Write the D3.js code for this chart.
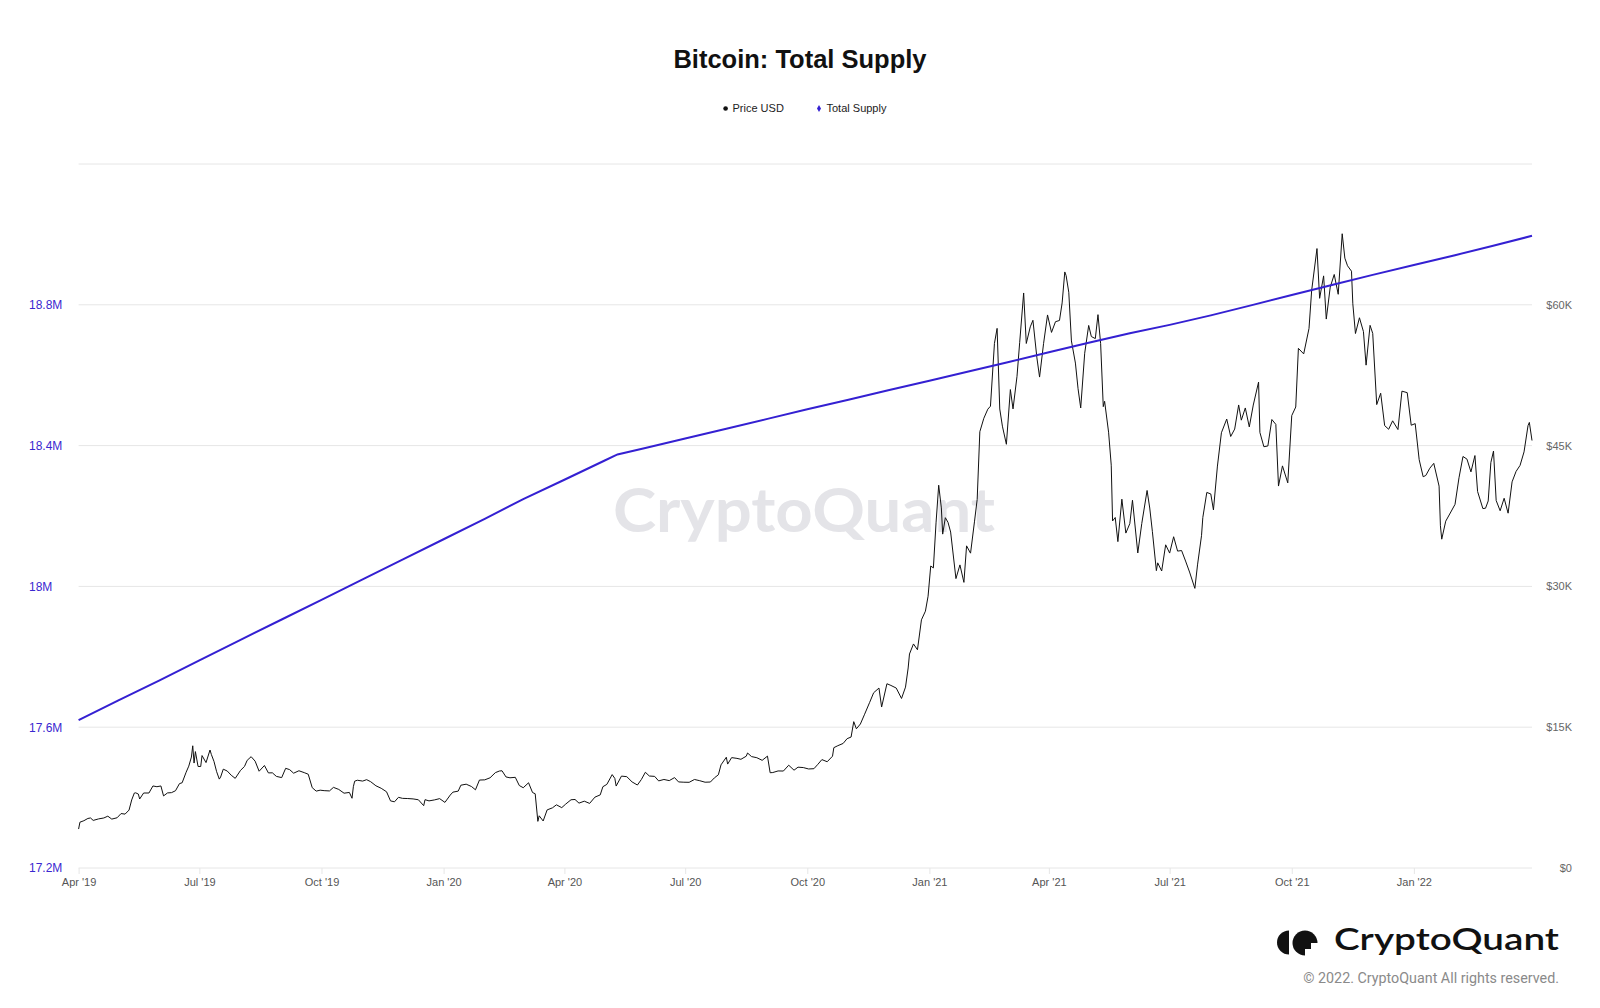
<!DOCTYPE html>
<html>
<head>
<meta charset="utf-8">
<script src="https://cdn.jsdelivr.net/npm/d3@7"></script>
<style>
  html, body { margin: 0; padding: 0; background: #ffffff; }
  svg { display: block; }
</style>
</head>
<body>
<svg id="chart" width="1600" height="1008"></svg>
<script>
// ---------------- DATA ----------------
const chartTitle = "Bitcoin: Total Supply";
const seriesNames = ["Price USD", "Total Supply"];

// Total supply (BTC, millions)
const supplyPoints = [
  ["2019-04-01", 17.620], ["2019-05-01", 17.676], ["2019-06-01", 17.733], ["2019-07-01", 17.790],
  ["2019-08-01", 17.848], ["2019-09-01", 17.906], ["2019-10-01", 17.962], ["2019-11-01", 18.020],
  ["2019-12-01", 18.076], ["2020-01-01", 18.134], ["2020-02-01", 18.192], ["2020-03-01", 18.248],
  ["2020-04-01", 18.303], ["2020-05-01", 18.357], ["2020-05-11", 18.375], ["2020-06-01", 18.393],
  ["2020-07-01", 18.420], ["2020-08-01", 18.448], ["2020-09-01", 18.476], ["2020-10-01", 18.503],
  ["2020-11-01", 18.530], ["2020-12-01", 18.557], ["2021-01-01", 18.584], ["2021-02-01", 18.612],
  ["2021-03-01", 18.637], ["2021-04-01", 18.665], ["2021-05-01", 18.692], ["2021-06-01", 18.719],
  ["2021-07-01", 18.743], ["2021-08-01", 18.770], ["2021-09-01", 18.799], ["2021-10-01", 18.828],
  ["2021-11-01", 18.857], ["2021-12-01", 18.885], ["2022-01-01", 18.913], ["2022-02-01", 18.941],
  ["2022-03-01", 18.967], ["2022-03-31", 18.996]
];

// Price USD
const price2019 = [
  ["2019-04-01",4150],["2019-04-02",4880],["2019-04-05",5040],["2019-04-08",5280],["2019-04-10",5330],
  ["2019-04-12",5070],["2019-04-16",5230],["2019-04-20",5330],["2019-04-23",5520],["2019-04-26",5210],
  ["2019-04-30",5350],["2019-05-03",5800],["2019-05-06",5740],["2019-05-09",6170],["2019-05-11",7250],
  ["2019-05-13",7990],["2019-05-14",8010],["2019-05-16",7880],["2019-05-17",7350],["2019-05-20",7990],
  ["2019-05-24",7990],["2019-05-27",8740],["2019-05-30",8660],["2019-06-02",8740],["2019-06-04",7680],
  ["2019-06-07",8000],["2019-06-10",8030],["2019-06-13",8230],["2019-06-16",8990],["2019-06-18",9080],
  ["2019-06-21",10200],["2019-06-23",10850],["2019-06-25",11820],["2019-06-26",13020],["2019-06-27",11180],
  ["2019-06-28",12400],["2019-06-30",10820],["2019-07-02",10810],["2019-07-03",11980],["2019-07-06",11230],
  ["2019-07-09",12570],["2019-07-10",12100],["2019-07-12",11350],["2019-07-14",10260],["2019-07-16",9470],
  ["2019-07-17",9690],["2019-07-19",10530],["2019-07-22",10330],["2019-07-25",9880],["2019-07-28",9550],
  ["2019-08-01",10400],["2019-08-04",10820],["2019-08-06",11470],["2019-08-09",11860],["2019-08-12",11380],
  ["2019-08-15",10310],["2019-08-19",10920],["2019-08-22",10130],["2019-08-25",10140],["2019-08-28",9760],
  ["2019-09-01",9630],["2019-09-04",10620],["2019-09-07",10480],["2019-09-10",10100],["2019-09-14",10360],
  ["2019-09-18",10160],["2019-09-21",9990],["2019-09-24",8560],["2019-09-27",8190],["2019-09-30",8290],
  ["2019-10-03",8240],["2019-10-07",8210],["2019-10-10",8590],["2019-10-14",8370],["2019-10-18",7970],
  ["2019-10-22",8050],["2019-10-24",7430],["2019-10-25",8660],["2019-10-26",9250],["2019-10-28",9350],
  ["2019-11-01",9260],["2019-11-04",9410],["2019-11-07",9200],["2019-11-11",8760],["2019-11-15",8490],
  ["2019-11-19",8120],["2019-11-22",7150],["2019-11-25",7050],["2019-11-28",7530],["2019-12-01",7420],
  ["2019-12-05",7400],["2019-12-09",7360],["2019-12-13",7270],["2019-12-17",6640],["2019-12-18",7280],
  ["2019-12-21",7150],["2019-12-25",7250],["2019-12-29",7390]
];
const price2020 = [
  ["2020-01-02",6990],["2020-01-06",7770],["2020-01-08",8080],["2020-01-12",8190],["2020-01-14",8820],
  ["2020-01-18",8930],["2020-01-22",8680],["2020-01-25",8330],["2020-01-28",9370],["2020-02-01",9390],
  ["2020-02-05",9610],["2020-02-09",10160],["2020-02-12",10330],["2020-02-14",10360],["2020-02-17",9700],
  ["2020-02-20",9610],["2020-02-24",9660],["2020-02-27",8790],["2020-03-01",8550],["2020-03-05",9080],
  ["2020-03-08",8040],["2020-03-10",7910],["2020-03-12",4970],["2020-03-13",5560],["2020-03-16",5010],
  ["2020-03-19",6190],["2020-03-23",6410],["2020-03-26",6730],["2020-03-30",6430],["2020-04-02",6810],
  ["2020-04-06",7270],["2020-04-09",7300],["2020-04-12",6910],["2020-04-16",7120],["2020-04-20",6880],
  ["2020-04-24",7550],["2020-04-28",7790],["2020-04-30",8660],["2020-05-03",8910],["2020-05-07",9950],
  ["2020-05-09",9540],["2020-05-10",8730],["2020-05-14",9790],["2020-05-18",9730],["2020-05-22",9170],
  ["2020-05-26",8840],["2020-05-29",9430],["2020-06-01",10200],["2020-06-04",9800],["2020-06-08",9760],
  ["2020-06-11",9280],["2020-06-15",9430],["2020-06-19",9310],["2020-06-23",9630],["2020-06-26",9170],
  ["2020-06-30",9140],["2020-07-04",9130],["2020-07-08",9430],["2020-07-12",9300],["2020-07-16",9140],
  ["2020-07-20",9160],["2020-07-23",9600],["2020-07-26",9930],["2020-07-28",10990],["2020-08-01",11800],
  ["2020-08-02",11070],["2020-08-05",11760],["2020-08-09",11680],["2020-08-12",11580],["2020-08-16",11910],
  ["2020-08-17",12250],["2020-08-20",11870],["2020-08-24",11750],["2020-08-28",11470],["2020-09-01",11920],
  ["2020-09-03",10150],["2020-09-05",10170],["2020-09-09",10340],["2020-09-13",10330],["2020-09-17",10950],
  ["2020-09-21",10420],["2020-09-24",10740],["2020-09-28",10700],["2020-10-02",10550],["2020-10-06",10580],
  ["2020-10-09",11050],["2020-10-12",11550],["2020-10-16",11320],["2020-10-20",11910],["2020-10-21",12820],
  ["2020-10-24",13030],["2020-10-28",13270],["2020-10-31",13780],["2020-11-03",13950],["2020-11-05",15590],
  ["2020-11-07",14830],["2020-11-10",15340],["2020-11-13",16320],["2020-11-17",17650],["2020-11-20",18670],
  ["2020-11-24",19170],["2020-11-26",17150],["2020-11-30",19630],["2020-12-03",19450],["2020-12-07",19170],
  ["2020-12-11",18060],["2020-12-14",19270],["2020-12-16",21310],["2020-12-17",22800],["2020-12-20",23870],
  ["2020-12-23",23250],["2020-12-26",26440],["2020-12-29",27360],["2020-12-31",28950]
];
const price2021 = [
  ["2021-01-02",32170],["2021-01-04",31970],["2021-01-06",36770],["2021-01-08",40780],["2021-01-10",38360],
  ["2021-01-11",35570],["2021-01-13",37320],["2021-01-15",36830],["2021-01-17",35790],["2021-01-21",30830],
  ["2021-01-24",32290],["2021-01-27",30430],["2021-01-29",34320],["2021-02-01",33540],["2021-02-04",36950],
  ["2021-02-06",39260],["2021-02-08",46480],["2021-02-11",47910],["2021-02-14",48880],["2021-02-16",49200],
  ["2021-02-19",55890],["2021-02-21",57490],["2021-02-23",48900],["2021-02-25",47070],["2021-02-28",45140],
  ["2021-03-03",50970],["2021-03-05",48910],["2021-03-08",52380],["2021-03-10",55960],["2021-03-13",61260],
  ["2021-03-15",55880],["2021-03-18",57650],["2021-03-20",58350],["2021-03-23",54340],["2021-03-25",52300],
  ["2021-03-28",55860],["2021-03-31",58920],["2021-04-03",57060],["2021-04-06",58200],["2021-04-09",58330],
  ["2021-04-11",60200],["2021-04-13",63500],["2021-04-14",63110],["2021-04-16",61340],["2021-04-18",56150],
  ["2021-04-21",53790],["2021-04-23",51060],["2021-04-25",49010],["2021-04-28",54840],["2021-05-01",57800],
  ["2021-05-03",56620],["2021-05-06",56400],["2021-05-08",58950],["2021-05-10",55860],["2021-05-12",49150],
  ["2021-05-13",49720],["2021-05-16",46430],["2021-05-18",42910],["2021-05-19",36970],["2021-05-21",37340],
  ["2021-05-23",34770],["2021-05-26",39290],["2021-05-29",35680],["2021-06-01",36690],["2021-06-03",39180],
  ["2021-06-07",33560],["2021-06-10",36700],["2021-06-14",40220],["2021-06-16",38350],["2021-06-18",35830],
  ["2021-06-21",31680],["2021-06-22",32510],["2021-06-25",31640],["2021-06-28",34430],["2021-07-01",33550],
  ["2021-07-04",35290],["2021-07-07",33760],["2021-07-10",33820],["2021-07-13",32700],["2021-07-16",31530],
  ["2021-07-20",29790],["2021-07-22",32290],["2021-07-25",35400],["2021-07-26",37340],["2021-07-29",40010],
  ["2021-08-01",39850],["2021-08-03",38150],["2021-08-06",42820],["2021-08-09",46370],["2021-08-13",47830],
  ["2021-08-16",45970],["2021-08-19",46760],["2021-08-22",49330],["2021-08-24",47710],["2021-08-27",49010],
  ["2021-08-30",46990],["2021-09-02",49320],["2021-09-06",51770],["2021-09-07",46400],["2021-09-10",44880],
  ["2021-09-13",44960],["2021-09-16",47780],["2021-09-19",47260],["2021-09-21",40690],["2021-09-24",42840],
  ["2021-09-28",41030],["2021-10-01",48200],["2021-10-04",49110],["2021-10-06",55360],["2021-10-10",54770],
  ["2021-10-14",57480],["2021-10-16",61530],["2021-10-20",65990],["2021-10-22",60690],["2021-10-25",63080],
  ["2021-10-27",58480],["2021-10-30",61890],["2021-11-02",63230],["2021-11-05",61120],["2021-11-08",67570],
  ["2021-11-10",64970],["2021-11-12",64160],["2021-11-15",63580],["2021-11-16",60110],["2021-11-18",56940],
  ["2021-11-21",58620],["2021-11-24",57150],["2021-11-26",53570],["2021-11-29",57810],["2021-12-01",56950],
  ["2021-12-04",49370],["2021-12-07",50580],["2021-12-10",47130],["2021-12-13",46740],["2021-12-16",47640],
  ["2021-12-20",46710],["2021-12-23",50800],["2021-12-27",50640],["2021-12-30",47170]
];
const price2022 = [
  ["2022-01-02",47340],["2022-01-05",43500],["2022-01-08",41680],["2022-01-10",41820],["2022-01-13",42590],
  ["2022-01-16",43110],["2022-01-20",40680],["2022-01-21",36460],["2022-01-22",35030],["2022-01-25",36950],
  ["2022-01-28",37710],["2022-02-01",38740],["2022-02-04",41570],["2022-02-07",43840],["2022-02-10",43560],
  ["2022-02-13",42200],["2022-02-16",43940],["2022-02-18",40110],["2022-02-22",38290],["2022-02-24",38330],
  ["2022-02-26",39100],["2022-02-28",43190],["2022-03-02",44420],["2022-03-04",39150],["2022-03-07",38060],
  ["2022-03-10",39390],["2022-03-13",37800],["2022-03-16",41140],["2022-03-19",42250],["2022-03-22",42890],
  ["2022-03-25",44330],["2022-03-28",47130],["2022-03-29",47470],["2022-03-31",45540]
];

const supplyTicks = [17.2, 17.6, 18.0, 18.4, 18.8];
const supplyTickLabels = ["17.2M", "17.6M", "18M", "18.4M", "18.8M"];
const priceTicks = [0, 15000, 30000, 45000, 60000];
const priceTickLabels = ["$0", "$15K", "$30K", "$45K", "$60K"];
const gridValues = [17.2, 17.6, 18.0, 18.4, 18.8, 19.2];
const dateTicks = ["2019-04-01","2019-07-01","2019-10-01","2020-01-01","2020-04-01","2020-07-01",
                   "2020-10-01","2021-01-01","2021-04-01","2021-07-01","2021-10-01","2022-01-01"];
const dateTickLabels = ["Apr '19","Jul '19","Oct '19","Jan '20","Apr '20","Jul '20",
                        "Oct '20","Jan '21","Apr '21","Jul '21","Oct '21","Jan '22"];

// ---------------- DRAW ----------------
const parse = d3.utcParse("%Y-%m-%d");
const svg = d3.select("#chart");
const W = 1600, H = 1008;
const plot = { left: 78.6, right: 1532, top: 164, bottom: 868 };

const supplyBlue = "#3420d2";
const font = "'Liberation Sans', Arial, Helvetica, sans-serif";

const x = d3.scaleUtc()
  .domain([parse("2019-04-01"), parse("2022-03-31")])
  .range([plot.left, plot.right]);
const ySupply = d3.scaleLinear().domain([17.2, 19.2]).range([plot.bottom, plot.top]);
const yPrice = d3.scaleLinear().domain([0, 75000]).range([plot.bottom, plot.top]);

svg.append("rect").attr("width", W).attr("height", H).attr("fill", "#ffffff");

// Title
svg.append("text")
  .attr("x", 800).attr("y", 68)
  .attr("text-anchor", "middle")
  .attr("font-family", font).attr("font-weight", "bold").attr("font-size", 25.5)
  .attr("fill", "#111")
  .text(chartTitle);

// Legend
const legend = svg.append("g").attr("font-family", font).attr("font-size", 11).attr("fill", "#222");
legend.append("circle").attr("cx", 725.6).attr("cy", 108.5).attr("r", 2.3).attr("fill", "#111");
legend.append("text").attr("x", 732.5).attr("y", 112).text(seriesNames[0]);
legend.append("path")
  .attr("d", d3.symbol(d3.symbolDiamond, 14)())
  .attr("transform", "translate(819,108.5)")
  .attr("fill", supplyBlue);
legend.append("text").attr("x", 826.5).attr("y", 112).text(seriesNames[1]);

// Gridlines
svg.append("g").selectAll("line").data(gridValues).join("line")
  .attr("x1", plot.left).attr("x2", plot.right)
  .attr("y1", d => ySupply(d)).attr("y2", d => ySupply(d))
  .attr("stroke", "#e6e6e6").attr("stroke-width", 1);

// Watermark
svg.append("text")
  .attr("x", 613).attr("y", 532)
  .attr("font-family", "Lato, 'Noto Sans', sans-serif").attr("font-weight", 700).attr("font-size", 62)
  .attr("fill", "#e4e4e8")
  .attr("textLength", 382).attr("lengthAdjust", "spacingAndGlyphs")
  .text("CryptoQuant");

// X axis
const xAxis = d3.axisBottom(x)
  .tickValues(dateTicks.map(parse))
  .tickFormat((d, i) => dateTickLabels[i])
  .tickSize(6).tickPadding(4);
const gx = svg.append("g").attr("transform", `translate(0,${plot.bottom})`).call(xAxis);
gx.select(".domain").remove();
gx.selectAll(".tick line").attr("stroke", "#e6e6e6");
gx.selectAll(".tick text").attr("font-family", font).attr("font-size", 11).attr("fill", "#555");

// Left axis (supply)
const yAxisL = d3.axisLeft(ySupply)
  .tickValues(supplyTicks)
  .tickFormat((d, i) => supplyTickLabels[i])
  .tickSize(0);
const gl = svg.append("g").attr("transform", `translate(${plot.left},0)`).call(yAxisL);
gl.select(".domain").remove();
gl.selectAll(".tick text")
  .attr("text-anchor", "start").attr("x", 29 - plot.left).attr("dy", "0.32em")
  .attr("font-family", font).attr("font-size", 12).attr("fill", "#3a28d0");

// Right axis (price)
const yAxisR = d3.axisRight(yPrice)
  .tickValues(priceTicks)
  .tickFormat((d, i) => priceTickLabels[i])
  .tickSize(0);
const gr = svg.append("g").attr("transform", `translate(${plot.right},0)`).call(yAxisR);
gr.select(".domain").remove();
gr.selectAll(".tick text")
  .attr("text-anchor", "end").attr("x", 1572 - plot.right).attr("dy", "0.32em")
  .attr("font-family", font).attr("font-size", 11).attr("fill", "#666");

// Price line
const priceData = [...price2019, ...price2020, ...price2021, ...price2022]
  .map(([d, v]) => ({ date: parse(d), value: v }));
svg.append("path")
  .datum(priceData)
  .attr("fill", "none").attr("stroke", "#111").attr("stroke-width", 1)
  .attr("stroke-linejoin", "round")
  .attr("d", d3.line().x(d => x(d.date)).y(d => yPrice(d.value)));

// Supply line
const supplyData = supplyPoints.map(([d, v]) => ({ date: parse(d), value: v }));
svg.append("path")
  .datum(supplyData)
  .attr("fill", "none").attr("stroke", supplyBlue).attr("stroke-width", 2)
  .attr("d", d3.line().x(d => x(d.date)).y(d => ySupply(d.value)));

// Logo (bottom right)
const logo = svg.append("g");
logo.append("path")
  .attr("d", d3.arc()({ innerRadius: 0, outerRadius: 12, startAngle: Math.PI, endAngle: 2 * Math.PI }))
  .attr("transform", "translate(1289,942.5)")
  .attr("fill", "#111");
logo.append("circle").attr("cx", 1305).attr("cy", 943).attr("r", 12.5).attr("fill", "#111");
logo.append("path")
  .attr("d", "M1305,943 L1318,943 L1318,956 L1305,956 Z")
  .attr("fill", "#ffffff");
logo.append("path")
  .attr("d", "M1305,943 L1311,943 L1311,949 L1305,949 Z")
  .attr("fill", "#111");
logo.append("text")
  .attr("x", 1334).attr("y", 950)
  .attr("font-family", "Lato, 'Noto Sans', sans-serif").attr("font-weight", 600).attr("font-size", 31)
  .attr("fill", "#111")
  .attr("textLength", 225).attr("lengthAdjust", "spacingAndGlyphs")
  .text("CryptoQuant");
logo.append("text")
  .attr("x", 1559).attr("y", 983)
  .attr("text-anchor", "end")
  .attr("font-family", "Roboto, sans-serif").attr("font-size", 14.3)
  .attr("fill", "#8a8a8a")
  .text("© 2022. CryptoQuant All rights reserved.");
</script>
</body>
</html>
